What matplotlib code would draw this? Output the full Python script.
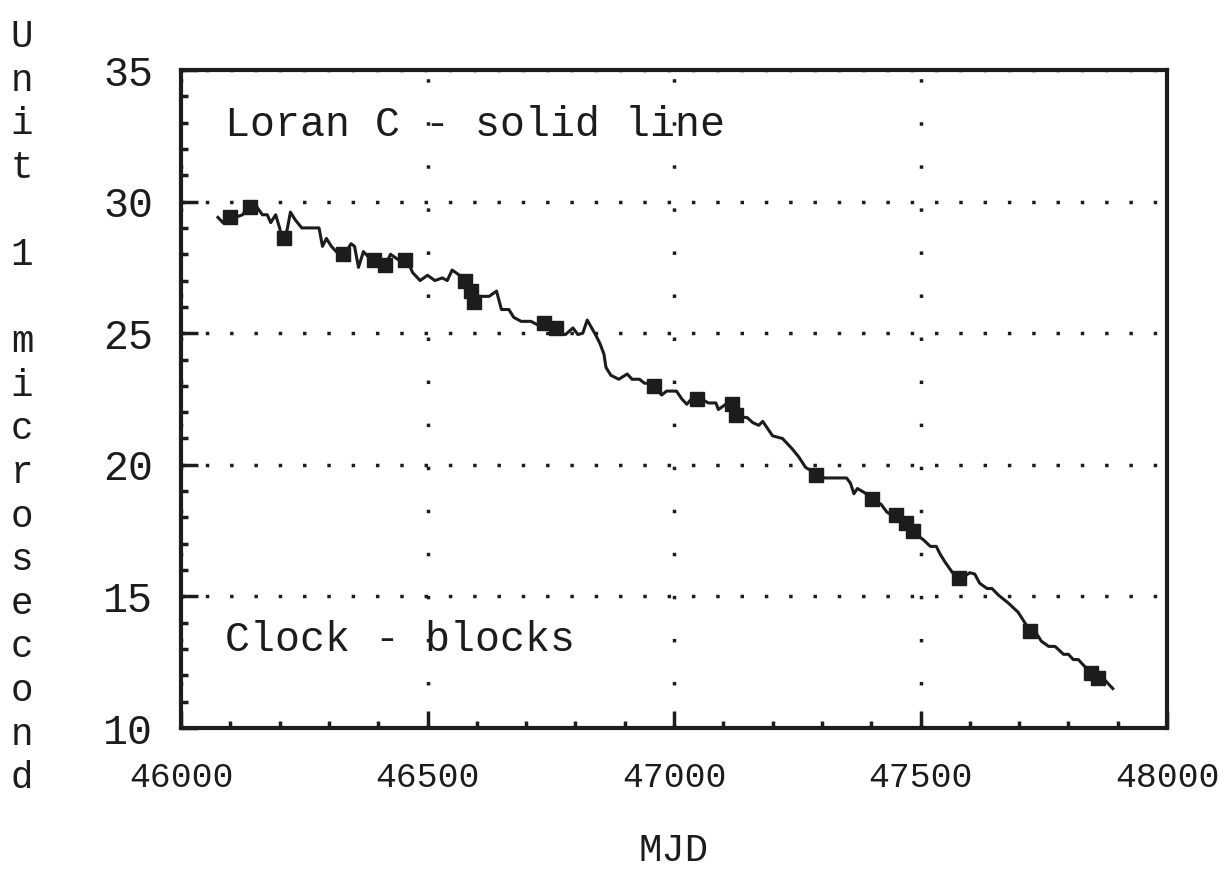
import matplotlib.pyplot as plt
from matplotlib.ticker import MultipleLocator

# Loran C readings (MJD, microseconds)
loran_mjd = [46075, 46085, 46095, 46110, 46125, 46135, 46150, 46165, 46175, 46182,
             46192, 46200, 46205, 46215, 46222, 46232, 46245, 46265, 46280, 46287,
             46295, 46305, 46320, 46335, 46345, 46352, 46360, 46370, 46385, 46400,
             46415, 46425, 46440, 46455, 46470, 46485, 46500, 46515, 46530, 46540,
             46550, 46565, 46580, 46595, 46605, 46625, 46640, 46650, 46665, 46675,
             46690, 46710, 46725, 46745, 46765, 46780, 46795, 46805, 46815, 46824,
             46842, 46850, 46858, 46862, 46872, 46888, 46905, 46915, 46930, 46940,
             46955, 46975, 46985, 47005, 47016, 47026, 47040, 47055, 47070, 47085,
             47090, 47105, 47120, 47135, 47148, 47160, 47172, 47180, 47200, 47220,
             47240, 47253, 47267, 47285, 47305, 47350, 47358, 47365, 47372, 47390,
             47410, 47420, 47432, 47450, 47470, 47495, 47506, 47520, 47532, 47540,
             47550, 47565, 47585, 47600, 47610, 47620, 47635, 47645, 47658, 47678,
             47698, 47715, 47735, 47745, 47760, 47773, 47790, 47800, 47810, 47820,
             47840, 47860, 47875, 47890]
loran_val = [29.4, 29.2, 29.5, 29.4, 29.5, 29.8, 29.9, 29.5, 29.5, 29.2,
             29.5, 29.0, 28.6, 28.9, 29.6, 29.3, 29.0, 29.0, 29.0, 28.3,
             28.6, 28.3, 28.0, 28.1, 28.4, 28.3, 27.5, 28.1, 27.8, 27.6,
             27.6, 28.0, 27.8, 27.9, 27.3, 27.0, 27.2, 27.0, 27.1, 27.0,
             27.4, 27.2, 26.9, 26.2, 26.4, 26.4, 26.6, 25.9, 25.9, 25.6,
             25.45, 25.45, 25.3, 25.2, 25.0, 24.95, 25.2, 24.95, 25.0, 25.5,
             24.9, 24.6, 24.2, 23.7, 23.4, 23.25, 23.45, 23.25, 23.25, 23.1,
             23.1, 22.65, 22.8, 22.8, 22.5, 22.3, 22.6, 22.5, 22.35, 22.35,
             22.1, 22.3, 22.0, 21.8, 21.8, 21.6, 21.5, 21.65, 21.1, 21.0,
             20.6, 20.3, 19.9, 19.7, 19.5, 19.5, 19.3, 18.9, 19.1, 18.9,
             18.6, 18.5, 18.2, 18.0, 17.6, 17.3, 17.15, 16.9, 16.9, 16.6,
             16.3, 15.9, 15.7, 15.9, 15.85, 15.5, 15.3, 15.3, 15.05, 14.75,
             14.4, 13.9, 13.6, 13.3, 13.1, 13.1, 12.8, 12.8, 12.6, 12.6,
             12.2, 12.0, 11.8, 11.5]

# clock comparison points (blocks)
clock_mjd = [46099, 46140, 46208, 46328, 46391, 46413, 46455, 46577, 46589, 46595,
             46737, 46761, 46960, 47046, 47117, 47125, 47289, 47401, 47451, 47470,
             47484, 47579, 47723, 47846, 47860]
clock_val = [29.4, 29.8, 28.6, 28.0, 27.8, 27.6, 27.8, 27.0, 26.6, 26.2,
             25.4, 25.2, 23.0, 22.5, 22.3, 21.9, 19.6, 18.7, 18.1, 17.8,
             17.5, 15.7, 13.7, 12.1, 11.9]

ylabel_chars = list("Unit") + [""] + ["1"] + [""] + list("microsecond")

ink = '#1c1c1c'
mono = 'Liberation Mono'

fig = plt.figure(figsize=(12.2, 8.93), dpi=100)
ax = fig.add_axes([181/1220, 1 - 728/893, 986/1220, 658/893])

ax.plot(loran_mjd, loran_val, '-', color=ink, lw=2.2)
ax.plot(clock_mjd, clock_val, 's', color=ink, ms=10, mec=ink)

ax.set_xlim(46000, 48000)
ax.set_ylim(10, 35)
ax.xaxis.set_major_locator(MultipleLocator(500))
ax.xaxis.set_minor_locator(MultipleLocator(100))
ax.yaxis.set_major_locator(MultipleLocator(5))
ax.yaxis.set_minor_locator(MultipleLocator(1))
ax.tick_params(which='major', direction='in', length=12, width=2.5, color=ink)
ax.tick_params(which='minor', direction='in', length=5, width=2.5, color=ink)
ax.tick_params(axis='y', labelsize=30, pad=20)
ax.tick_params(axis='x', labelsize=25, pad=24)
for lab in ax.get_xticklabels() + ax.get_yticklabels():
    lab.set_family(mono)
    lab.set_color(ink)
for s in ax.spines.values():
    s.set_linewidth(3)
    s.set_color(ink)

ax.yaxis.grid(True, color=ink, lw=2.5, linestyle=(0, (1, 6)))
ax.xaxis.grid(True, color=ink, lw=2.5, linestyle=(0, (1, 11.4)))
ax.set_axisbelow(True)

ax.text(0.045, 0.916, "Loran C - solid line", transform=ax.transAxes,
        family=mono, fontsize=30, color=ink, va='center', ha='left')
ax.text(0.045, 0.134, "Clock - blocks", transform=ax.transAxes,
        family=mono, fontsize=30, color=ink, va='center', ha='left')

ax.set_xlabel("MJD", family=mono, fontsize=28, color=ink, labelpad=28)

# stacked vertical y label
for i, ch in enumerate(ylabel_chars):
    if ch:
        fig.text(22/1220, 1 - (47 + 43.6*i)/893, ch, family=mono, fontsize=27,
                 color=ink, ha='center', va='baseline')

fig.savefig('out.png', dpi=100, facecolor='white')
